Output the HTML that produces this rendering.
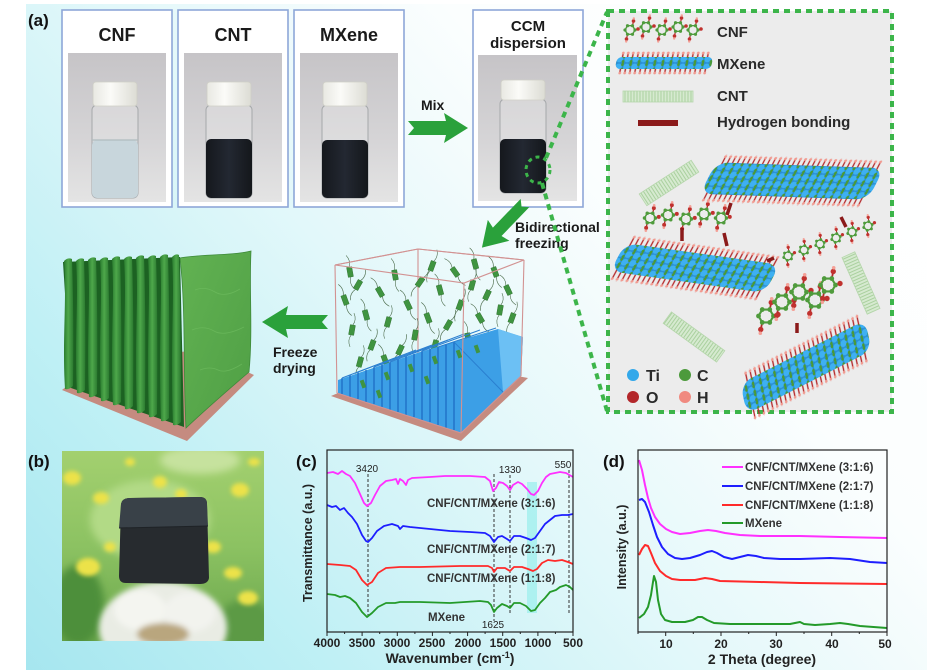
<!DOCTYPE html>
<html><head><meta charset="utf-8">
<style>
html,body{margin:0;padding:0;background:#fff;}
svg{display:block;}
text{font-family:"Liberation Sans",Arial,sans-serif;}
</style></head><body>
<svg width="927" height="670" viewBox="0 0 927 670" xmlns="http://www.w3.org/2000/svg">
<defs>
 <linearGradient id="bg" gradientUnits="userSpaceOnUse" x1="26" y1="670" x2="780" y2="0">
  <stop offset="0" stop-color="#a6e6ef"/>
  <stop offset="0.23" stop-color="#bff0f5"/>
  <stop offset="0.35" stop-color="#d0f3f7"/>
  <stop offset="0.5" stop-color="#e2f8fa"/>
  <stop offset="0.65" stop-color="#f2fbfc"/>
  <stop offset="0.75" stop-color="#fbfefe"/>
  <stop offset="1" stop-color="#ffffff"/>
 </linearGradient>
 <linearGradient id="photo" x1="0" y1="0" x2="0" y2="1">
  <stop offset="0" stop-color="#c6c4c7"/>
  <stop offset="0.6" stop-color="#d6d5d7"/>
  <stop offset="1" stop-color="#e4e4e4"/>
 </linearGradient>
 <linearGradient id="cap" x1="0" y1="0" x2="1" y2="0">
  <stop offset="0" stop-color="#e8e8e2"/>
  <stop offset="0.4" stop-color="#fbfbf8"/>
  <stop offset="1" stop-color="#dcdcd4"/>
 </linearGradient>
 <linearGradient id="dark" x1="0" y1="0" x2="1" y2="0">
  <stop offset="0" stop-color="#15181d"/>
  <stop offset="0.5" stop-color="#232832"/>
  <stop offset="1" stop-color="#14171b"/>
 </linearGradient>
 <linearGradient id="finG" x1="0" y1="0" x2="1" y2="0">
  <stop offset="0" stop-color="#2a7c2f"/>
  <stop offset="0.45" stop-color="#4ea84b"/>
  <stop offset="1" stop-color="#2b7a30"/>
 </linearGradient>
 <linearGradient id="faceG" x1="0" y1="0" x2="1" y2="1">
  <stop offset="0" stop-color="#62b252"/>
  <stop offset="1" stop-color="#4f9f45"/>
 </linearGradient>
 <linearGradient id="bphoto" x1="0" y1="0" x2="0" y2="1">
  <stop offset="0" stop-color="#a3d06f"/>
  <stop offset="0.5" stop-color="#8cc262"/>
  <stop offset="1" stop-color="#6aa64c"/>
 </linearGradient>
 <filter id="blur4" x="-50%" y="-50%" width="200%" height="200%"><feGaussianBlur stdDeviation="4"/></filter>
 <filter id="blur2" x="-50%" y="-50%" width="200%" height="200%"><feGaussianBlur stdDeviation="2"/></filter>
 <filter id="blur3" x="-50%" y="-50%" width="200%" height="200%"><feGaussianBlur stdDeviation="3"/></filter>
 <pattern id="tip" width="8" height="8" patternUnits="userSpaceOnUse">
  <rect width="8" height="8" fill="#2b8fd3"/>
  <circle cx="3" cy="4" r="3.4" fill="#3eb0f2"/>
  <circle cx="7" cy="1.5" r="1.6" fill="#4a9a36"/>
  <circle cx="7" cy="6.5" r="1.6" fill="#4a9a36"/>
 </pattern>
 <pattern id="hairT" width="5" height="12" patternUnits="userSpaceOnUse">
  <line x1="2.5" y1="2" x2="2.5" y2="12" stroke="#b3282a" stroke-width="1.4"/>
  <circle cx="2.5" cy="2" r="1.4" fill="#f19a90"/>
 </pattern>
 <pattern id="hairB" width="5" height="12" patternUnits="userSpaceOnUse">
  <line x1="2.5" y1="0" x2="2.5" y2="10" stroke="#b3282a" stroke-width="1.4"/>
  <circle cx="2.5" cy="10" r="1.4" fill="#f19a90"/>
 </pattern>
 <pattern id="cnt" width="3" height="10" patternUnits="userSpaceOnUse">
  <rect width="3" height="10" fill="#d6ead0"/>
  <line x1="1" y1="0" x2="1" y2="10" stroke="#9fca92" stroke-width="0.8"/>
 </pattern>
 <g id="cu">
  <polygon points="5,0 2.5,4.3 -2.5,4.3 -5,0 -2.5,-4.3 2.5,-4.3" fill="none" stroke="#4f9b3c" stroke-width="1.4"/>
  <line x1="2.5" y1="-4.3" x2="3.5" y2="-9" stroke="#b52a2a" stroke-width="1.2"/>
  <line x1="-2.5" y1="4.3" x2="-3.5" y2="9" stroke="#b52a2a" stroke-width="1.2"/>
  <circle cx="3.5" cy="-9" r="1.8" fill="#c0312e"/>
  <circle cx="3.8" cy="-11.5" r="1.2" fill="#f4a097"/>
  <circle cx="-3.5" cy="9" r="1.8" fill="#c0312e"/>
  <circle cx="-3.8" cy="11.5" r="1.2" fill="#f4a097"/>
  <circle cx="5" cy="0" r="1.6" fill="#4f9b3c"/>
  <circle cx="-5" cy="0" r="1.6" fill="#4f9b3c"/>
  <circle cx="2.5" cy="4.3" r="1.6" fill="#4f9b3c"/>
  <circle cx="-2.5" cy="-4.3" r="1.6" fill="#4f9b3c"/>
  <circle cx="-2.5" cy="4.3" r="1.6" fill="#4f9b3c"/>
  <circle cx="2.5" cy="-4.3" r="1.6" fill="#4f9b3c"/>
  <circle cx="8" cy="-1" r="1.8" fill="#c0312e"/>
 </g>
 <g id="plt">
  <path d="M0,-5 q3,-6 -1,-12 M0,5 q-3,6 1,12" fill="none" stroke="#4d6d4d" stroke-width="0.6"/>
  <rect x="-2.6" y="-5" width="5.2" height="10" fill="#3f9440" stroke="#2a6a2a" stroke-width="0.4"/>
 </g>
 <clipPath id="c1"><rect x="68" y="53" width="98" height="149"/></clipPath>
 <clipPath id="c2"><rect x="184" y="53" width="98" height="149"/></clipPath>
 <clipPath id="c3"><rect x="300" y="53" width="98" height="149"/></clipPath>
 <clipPath id="c4"><rect x="478" y="55" width="99" height="146"/></clipPath>
 <clipPath id="bclip"><rect x="62" y="451" width="202" height="190"/></clipPath>
</defs>

<!-- background -->
<rect x="26" y="4" width="901" height="666" fill="url(#bg)"/>

<!-- (a) label -->
<text x="28" y="26" font-size="17" font-weight="bold" fill="#111">(a)</text>

<!-- vial boxes -->
<g stroke="#8ea7d8" stroke-width="1.6" fill="#fff">
 <rect x="62" y="10" width="110" height="197"/>
 <rect x="178" y="10" width="110" height="197"/>
 <rect x="294" y="10" width="110" height="197"/>
 <rect x="473" y="10" width="110" height="197"/>
</g>
<g font-weight="bold" fill="#1a1a1a" text-anchor="middle">
 <text x="117" y="41" font-size="18">CNF</text>
 <text x="233" y="41" font-size="18">CNT</text>
 <text x="349" y="41" font-size="18">MXene</text>
 <text x="528" y="31" font-size="15">CCM</text>
 <text x="528" y="48" font-size="15">dispersion</text>
</g>

<!-- photo CNF -->
<g clip-path="url(#c1)">
 <rect x="68" y="53" width="98" height="149" fill="url(#photo)"/>
 <rect x="92" y="105" width="46" height="93" rx="5" fill="#eef0f0" fill-opacity="0.3" stroke="#a5a8aa" stroke-width="1"/>
 <rect x="92" y="140" width="46" height="58" rx="5" fill="#c8d6dc"/>
 <line x1="92" y1="140" x2="138" y2="140" stroke="#b0bcbf" stroke-width="1.2"/>
 <rect x="93" y="82" width="44" height="24" rx="3" fill="url(#cap)" stroke="#cfcfc6" stroke-width="0.8"/>
</g>
<!-- photo CNT -->
<g clip-path="url(#c2)">
 <rect x="184" y="53" width="98" height="149" fill="url(#photo)"/>
 <rect x="206" y="105" width="46" height="93" rx="5" fill="#eef0f0" fill-opacity="0.3" stroke="#a5a8aa" stroke-width="1"/>
 <rect x="206" y="139" width="46" height="59" rx="5" fill="url(#dark)"/>
 <rect x="207" y="82" width="44" height="24" rx="3" fill="url(#cap)" stroke="#cfcfc6" stroke-width="0.8"/>
</g>
<!-- photo MXene -->
<g clip-path="url(#c3)">
 <rect x="300" y="53" width="98" height="149" fill="url(#photo)"/>
 <rect x="322" y="105" width="46" height="93" rx="5" fill="#eef0f0" fill-opacity="0.3" stroke="#a5a8aa" stroke-width="1"/>
 <rect x="322" y="140" width="46" height="58" rx="5" fill="url(#dark)"/>
 <rect x="323" y="82" width="44" height="24" rx="3" fill="url(#cap)" stroke="#cfcfc6" stroke-width="0.8"/>
</g>
<!-- photo CCM -->
<g clip-path="url(#c4)">
 <rect x="478" y="55" width="99" height="146" fill="url(#photo)"/>
 <rect x="500" y="99" width="46" height="94" rx="5" fill="#eef0f0" fill-opacity="0.3" stroke="#a5a8aa" stroke-width="1"/>
 <rect x="500" y="139" width="46" height="54" rx="5" fill="url(#dark)"/>
 <rect x="501" y="80" width="44" height="20" rx="3" fill="url(#cap)" stroke="#cfcfc6" stroke-width="0.8"/>
</g>

<!-- arrows -->
<g fill="#2aa13b">
 <polygon transform="translate(408,128)" points="0,-7 38,-7 36,-15 60,0 36,15 38,7 0,7 6,0"/>
 <polygon transform="translate(525,203) rotate(134)" points="0,-6 40,-6 38,-15 62,0 38,15 40,6 0,6 5,0"/>
 <polygon transform="translate(328,322) rotate(180)" points="0,-7 42,-7 40,-16 66,0 40,16 42,7 0,7 6,0"/>
</g>
<g font-weight="bold" font-size="14" fill="#1a1a1a">
 <text x="421" y="110">Mix</text>
 <text x="515" y="232">Bidirectional</text>
 <text x="515" y="248">freezing</text>
 <text x="273" y="357">Freeze</text>
 <text x="273" y="373">drying</text>
</g>

<!-- dashed connection -->
<g fill="none" stroke="#3cb54a" stroke-width="4" stroke-dasharray="6 5">
 <rect x="608" y="11" width="284" height="401" fill="#ececec"/>
 <line x1="546" y1="158" x2="607" y2="12"/>
 <line x1="542" y1="183" x2="607" y2="411"/>
</g>
<ellipse cx="538" cy="170" rx="12" ry="13" fill="none" stroke="#3cb54a" stroke-width="3" stroke-dasharray="4 4"/>

<!-- right panel legend -->
<g>
 <use href="#cu" transform="translate(630,30)"/>
 <use href="#cu" transform="translate(646,27)"/>
 <use href="#cu" transform="translate(662,30)"/>
 <use href="#cu" transform="translate(678,27)"/>
 <use href="#cu" transform="translate(693,30)"/>
</g>
<g transform="translate(664,63) skewX(-10)">
 <rect x="-44" y="-12" width="88" height="12" fill="url(#hairT)"/>
 <rect x="-44" y="0" width="88" height="12" fill="url(#hairB)"/>
 <rect x="-48" y="-6" width="96" height="12" rx="5" fill="url(#tip)"/>
</g>
<rect x="623" y="91" width="70" height="11" fill="url(#cnt)" stroke="#b5d6ab" stroke-width="0.8"/>
<rect x="638" y="120" width="40" height="6" fill="#8b1a1a"/>
<g font-weight="bold" font-size="15" fill="#2a2a2a">
 <text x="717" y="37">CNF</text>
 <text x="717" y="69">MXene</text>
 <text x="717" y="101">CNT</text>
 <text x="717" y="127">Hydrogen bonding</text>
</g>

<!-- CNT tubes -->
<rect x="-31" y="-7" width="62" height="14" fill="url(#cnt)" stroke="#b5d6ab" stroke-width="0.8" transform="translate(669,183) rotate(-33)"/>
<rect x="-31" y="-7" width="62" height="14" fill="url(#cnt)" stroke="#b5d6ab" stroke-width="0.8" transform="translate(861,283) rotate(66)"/>
<rect x="-33" y="-7" width="66" height="14" fill="url(#cnt)" stroke="#b5d6ab" stroke-width="0.8" transform="translate(694,337) rotate(36)"/>

<!-- flakes -->
<g transform="translate(792,181) rotate(2) skewX(-25)">
 <rect x="-80" y="-24" width="160" height="12" fill="url(#hairT)"/>
 <rect x="-80" y="12" width="160" height="12" fill="url(#hairB)"/>
 <rect x="-84" y="-16" width="168" height="32" rx="12" fill="url(#tip)"/>
</g>
<g transform="translate(695,268) rotate(8) skewX(-20)">
 <rect x="-74" y="-24" width="148" height="12" fill="url(#hairT)"/>
 <rect x="-74" y="12" width="148" height="12" fill="url(#hairB)"/>
 <rect x="-78" y="-15" width="156" height="30" rx="12" fill="url(#tip)"/>
</g>
<g transform="translate(806,367) rotate(-27) skewX(-15)">
 <rect x="-66" y="-24" width="132" height="12" fill="url(#hairT)"/>
 <rect x="-66" y="12" width="132" height="12" fill="url(#hairB)"/>
 <rect x="-70" y="-15" width="140" height="30" rx="12" fill="url(#tip)"/>
</g>

<!-- CNF chains -->
<g>
 <use href="#cu" transform="translate(650,218) scale(1.1)"/>
 <use href="#cu" transform="translate(668,215) scale(1.1)"/>
 <use href="#cu" transform="translate(686,219) scale(1.1)"/>
 <use href="#cu" transform="translate(704,214) scale(1.1)"/>
 <use href="#cu" transform="translate(721,218) scale(1.1)"/>
 <use href="#cu" transform="translate(788,256) scale(0.9) rotate(-20)"/>
 <use href="#cu" transform="translate(804,250) scale(0.9) rotate(-20)"/>
 <use href="#cu" transform="translate(820,244) scale(0.9) rotate(-20)"/>
 <use href="#cu" transform="translate(836,238) scale(0.9) rotate(-20)"/>
 <use href="#cu" transform="translate(852,232) scale(0.9) rotate(-20)"/>
 <use href="#cu" transform="translate(868,226) scale(0.9) rotate(-20)"/>
 <use href="#cu" transform="translate(766,316) scale(1.5)"/>
 <use href="#cu" transform="translate(782,302) scale(1.5)"/>
 <use href="#cu" transform="translate(799,292) scale(1.5)"/>
 <use href="#cu" transform="translate(815,300) scale(1.5)"/>
 <use href="#cu" transform="translate(828,285) scale(1.5)"/>
</g>
<!-- H bonds -->
<g stroke="#8b1a1a" stroke-width="3.5">
 <line x1="731" y1="203" x2="727" y2="215"/>
 <line x1="682" y1="228" x2="682" y2="241"/>
 <line x1="724" y1="233" x2="727" y2="246"/>
 <line x1="841" y1="217" x2="846" y2="227"/>
 <line x1="767" y1="261" x2="774" y2="258"/>
 <line x1="797" y1="323" x2="797" y2="333"/>
</g>
<!-- atom legend -->
<circle cx="633" cy="375" r="6" fill="#33a8ea"/>
<circle cx="685" cy="375" r="6" fill="#4c9a3c"/>
<circle cx="633" cy="397" r="6" fill="#b3262a"/>
<circle cx="685" cy="397" r="6" fill="#f08a80"/>
<g font-weight="bold" font-size="16" fill="#2a2a2a">
 <text x="646" y="381">Ti</text>
 <text x="697" y="381">C</text>
 <text x="646" y="403">O</text>
 <text x="697" y="403">H</text>
</g>

<!-- left aerogel structure -->
<polygon points="62,390 187,441 254,375 200,350 100,360" fill="#c58b80"/>
<polygon points="63,262 180,257 184,427 71,388" fill="#1c6222"/>
<g fill="url(#finG)">
 <path d="M64,261 Q68,257 72,259 Q74,320 73,386 Q69,390 65,389 C62,340 67,300 64,261Z"/>
 <path d="M76,261 Q80,257 84,259 Q86,320 85,390 Q81,394 77,393 C74,340 79,300 76,261Z"/>
 <path d="M88,260 Q92,256 96,258 Q98,320 97,394 Q93,398 89,397 C86,340 91,300 88,260Z"/>
 <path d="M100,260 Q104,256 108,258 Q110,320 109,398 Q105,402 101,401 C98,340 103,300 100,260Z"/>
 <path d="M112,259 Q116,255 120,257 Q122,320 121,402 Q117,406 113,405 C110,340 115,300 112,259Z"/>
 <path d="M124,259 Q128,255 132,257 Q134,320 133,406 Q129,410 125,409 C122,340 127,300 124,259Z"/>
 <path d="M136,258 Q140,254 144,256 Q146,320 145,410 Q141,414 137,413 C134,340 139,300 136,258Z"/>
 <path d="M148,258 Q152,254 156,256 Q158,320 157,414 Q153,418 149,417 C146,340 151,300 148,258Z"/>
 <path d="M160,257 Q164,253 168,255 Q170,320 169,418 Q165,422 161,421 C158,340 163,300 160,257Z"/>
 <path d="M172,257 Q176,253 179,255 Q181,320 181,422 Q177,426 173,425 C170,340 175,300 172,257Z"/>
</g>
<path d="M180,258 C200,254 230,256 251,251 C249,290 253,330 249,372 C228,390 205,410 186,428 C183,370 186,310 180,258Z" fill="url(#faceG)" stroke="#3e8a3a" stroke-width="0.8"/>
<g fill="none" stroke="#73c063" stroke-width="0.8" opacity="0.6">
 <path d="M195,290 q10,-4 20,2 t25,-3"/>
 <path d="M192,330 q12,-5 22,1 t30,-4"/>
 <path d="M200,370 q10,-4 18,0 t24,-6"/>
</g>

<!-- freezing cube -->
<polygon points="331,396 461,441 528,378 420,358" fill="#c58b80"/>
<g stroke="#d29292" stroke-width="1.1" fill="none">
 <polyline points="335,265 418,249 524,260"/>
 <line x1="418" y1="249" x2="418" y2="370"/>
</g>
<g>
 <use href="#plt" transform="translate(345,300) rotate(-20)"/>
 <use href="#plt" transform="translate(352,330) rotate(10)"/>
 <use href="#plt" transform="translate(358,285) rotate(30)"/>
 <use href="#plt" transform="translate(366,315) rotate(-15)"/>
 <use href="#plt" transform="translate(372,345) rotate(20)"/>
 <use href="#plt" transform="translate(380,292) rotate(-30)"/>
 <use href="#plt" transform="translate(388,322) rotate(15)"/>
 <use href="#plt" transform="translate(395,275) rotate(-10)"/>
 <use href="#plt" transform="translate(400,350) rotate(25)"/>
 <use href="#plt" transform="translate(408,305) rotate(-25)"/>
 <use href="#plt" transform="translate(415,335) rotate(10)"/>
 <use href="#plt" transform="translate(420,282) rotate(35)"/>
 <use href="#plt" transform="translate(428,318) rotate(-20)"/>
 <use href="#plt" transform="translate(435,345) rotate(15)"/>
 <use href="#plt" transform="translate(440,290) rotate(-15)"/>
 <use href="#plt" transform="translate(448,325) rotate(30)"/>
 <use href="#plt" transform="translate(455,272) rotate(-35)"/>
 <use href="#plt" transform="translate(460,305) rotate(20)"/>
 <use href="#plt" transform="translate(468,338) rotate(-10)"/>
 <use href="#plt" transform="translate(472,285) rotate(15)"/>
 <use href="#plt" transform="translate(480,318) rotate(-30)"/>
 <use href="#plt" transform="translate(487,295) rotate(25)"/>
 <use href="#plt" transform="translate(495,272) rotate(-20)"/>
 <use href="#plt" transform="translate(500,310) rotate(10)"/>
 <use href="#plt" transform="translate(508,290) rotate(-25)"/>
 <use href="#plt" transform="translate(512,318) rotate(20)"/>
 <use href="#plt" transform="translate(360,362) rotate(15)"/>
 <use href="#plt" transform="translate(385,360) rotate(-20)"/>
 <use href="#plt" transform="translate(350,272) rotate(-10)"/>
 <use href="#plt" transform="translate(432,266) rotate(20)"/>
 <use href="#plt" transform="translate(475,264) rotate(-15)"/>
</g>
<!-- ice -->
<polygon points="338,380 420,352 498,329 523,337 521,376 461,433 338,393" fill="#3c9fe6"/>
<polygon points="498,329 523,337 521,376 503,392" fill="#6cc0f4"/>
<g stroke="#1d6cc4" stroke-width="1.3">
 <line x1="342" y1="394" x2="342" y2="378"/>
 <line x1="350" y1="397" x2="350" y2="375"/>
 <line x1="358" y1="399" x2="358" y2="372"/>
 <line x1="366" y1="402" x2="366" y2="370"/>
 <line x1="374" y1="404" x2="374" y2="367"/>
 <line x1="382" y1="407" x2="382" y2="364"/>
 <line x1="390" y1="410" x2="390" y2="362"/>
 <line x1="398" y1="412" x2="398" y2="359"/>
 <line x1="406" y1="415" x2="406" y2="356"/>
 <line x1="414" y1="417" x2="414" y2="354"/>
 <line x1="422" y1="420" x2="422" y2="351"/>
 <line x1="430" y1="422" x2="430" y2="349"/>
 <line x1="438" y1="425" x2="438" y2="347"/>
 <line x1="446" y1="428" x2="446" y2="344"/>
 <line x1="454" y1="430" x2="454" y2="342"/>
</g>
<g stroke="#2a7fd0" stroke-width="1">
 <line x1="342" y1="378" x2="400" y2="356"/>
 <line x1="358" y1="372" x2="416" y2="350"/>
 <line x1="374" y1="367" x2="432" y2="345"/>
 <line x1="390" y1="362" x2="448" y2="340"/>
 <line x1="406" y1="356" x2="464" y2="334"/>
 <line x1="422" y1="351" x2="480" y2="330"/>
 <line x1="438" y1="347" x2="496" y2="328"/>
 <line x1="454" y1="342" x2="503" y2="392"/>
</g>
<g fill="#3f9440">
 <rect x="361" y="380" width="4" height="8" transform="rotate(-20 363 384)"/>
 <rect x="385" y="372" width="4" height="8" transform="rotate(-20 387 376)"/>
 <rect x="409" y="364" width="4" height="8" transform="rotate(-20 411 368)"/>
 <rect x="433" y="356" width="4" height="8" transform="rotate(-20 435 360)"/>
 <rect x="457" y="350" width="4" height="8" transform="rotate(-20 459 354)"/>
 <rect x="377" y="390" width="4" height="8" transform="rotate(-20 379 394)"/>
 <rect x="425" y="376" width="4" height="8" transform="rotate(-20 427 380)"/>
 <rect x="475" y="345" width="4" height="8" transform="rotate(-20 477 349)"/>
</g>
<g stroke="#d29292" stroke-width="1.1" fill="none">
 <polygon points="335,265 464,283 524,260 418,249" fill="none"/>
 <line x1="335" y1="265" x2="337" y2="393"/>
 <line x1="464" y1="283" x2="461" y2="433"/>
 <line x1="524" y1="260" x2="521" y2="376"/>
 <polyline points="337,393 461,433 521,376"/>
</g>

<!-- (b) -->
<text x="28" y="467" font-size="17" font-weight="bold" fill="#111">(b)</text>
<g clip-path="url(#bclip)">
 <rect x="62" y="451" width="202" height="190" fill="url(#bphoto)"/>
 <g filter="url(#blur4)">
  <ellipse cx="150" cy="520" rx="60" ry="40" fill="#b2da86"/>
  <ellipse cx="78" cy="605" rx="26" ry="40" fill="#4e8f3a"/>
  <ellipse cx="245" cy="625" rx="28" ry="25" fill="#5c9a44"/>
  <ellipse cx="200" cy="460" rx="40" ry="14" fill="#c6e29e"/>
 </g>
 <g fill="#ece24a" filter="url(#blur2)">
  <ellipse cx="72" cy="478" rx="9" ry="7"/>
  <ellipse cx="101" cy="498" rx="8" ry="6"/>
  <ellipse cx="160" cy="482" rx="7" ry="6"/>
  <ellipse cx="181" cy="494" rx="6" ry="5"/>
  <ellipse cx="240" cy="490" rx="9" ry="7"/>
  <ellipse cx="254" cy="462" rx="6" ry="4"/>
  <ellipse cx="88" cy="567" rx="12" ry="9"/>
  <ellipse cx="110" cy="547" rx="6" ry="5"/>
  <ellipse cx="213" cy="547" rx="8" ry="6"/>
  <ellipse cx="233" cy="573" rx="9" ry="6"/>
  <ellipse cx="248" cy="598" rx="10" ry="7"/>
  <ellipse cx="130" cy="462" rx="5" ry="4"/>
 </g>
 <g filter="url(#blur3)">
  <ellipse cx="163" cy="628" rx="64" ry="46" fill="#e9ece4"/>
  <ellipse cx="140" cy="610" rx="26" ry="20" fill="#f4f5f0"/>
  <ellipse cx="190" cy="612" rx="26" ry="20" fill="#f2f3ee"/>
  <ellipse cx="163" cy="634" rx="26" ry="11" fill="#b9a67e"/>
 </g>
 <path d="M121,504 Q122,498 130,498 L200,497 Q207,497 207,504 L209,578 Q208,584 200,584 L126,583 Q119,583 119,576 Z" fill="#272b2f"/>
 <path d="M121,504 Q122,498 130,498 L200,497 Q207,497 207,504 L208,526 L119,528 Z" fill="#394148"/>
 <line x1="119" y1="528" x2="208" y2="526" stroke="#1e2226" stroke-width="1"/>
</g>

<!-- (c) FTIR -->
<text x="296" y="467" font-size="17" font-weight="bold" fill="#111">(c)</text>
<rect x="527" y="482" width="10" height="131" fill="#a4f0ee" opacity="0.85"/>
<g stroke="#333" stroke-width="1" stroke-dasharray="3 2">
 <line x1="368" y1="474" x2="368" y2="617"/>
 <line x1="494" y1="474" x2="494" y2="621"/>
 <line x1="510" y1="475" x2="510" y2="613"/>
 <line x1="569" y1="470" x2="569" y2="614"/>
</g>
<g fill="none" stroke-width="1.8" stroke-linejoin="round">
 <polyline stroke="#ff30ff" points="327,473 333,472 338,474 342,471 346,474 350,476 355,483 360,494 364,503 367,506 371,503 375,495 380,486 386,481 392,480 396,479 398,484 400,479 403,481 406,485 408,480 412,478 430,477 445,476 470,476 485,477 490,481 493,491 496,488 499,482 503,483 507,486 510,490 513,485 518,482 522,484 527,489 531,494 534,495 538,491 542,483 546,477 550,474 555,473 560,472 566,473 573,477"/>
 <polyline stroke="#1e1eff" points="327,505 332,507 336,506 340,510 344,508 348,513 352,517 357,524 362,535 366,541 368,542 372,538 377,531 384,526 392,524 398,526 400,529 403,526 410,527 430,529 450,531 470,532 485,533 490,536 494,542 498,537 502,536 507,539 510,541 514,536 520,536 526,538 531,540 535,538 540,531 545,524 550,520 555,516 562,515 568,515 573,514"/>
 <polyline stroke="#ff2a2a" points="327,564 340,565 350,566 356,570 362,580 367,585 372,582 378,573 386,568 400,567 420,567 460,566 488,566 492,568 494,572 497,568 505,568 510,571 514,567 522,567 528,569 533,571 537,569 542,563 548,560 555,561 562,560 568,562 573,564"/>
 <polyline stroke="#249a2a" points="327,594 335,595 340,597 345,596 350,598 356,603 362,612 367,617 372,613 378,607 386,603 395,603 400,602 420,602 450,603 480,601 488,602 491,605 494,612 497,608 502,604 507,606 510,608 514,603 520,603 526,606 531,611 535,610 540,603 545,598 550,592 556,590 560,587 566,585 570,587 573,590"/>
</g>
<rect x="327" y="450" width="246" height="182" fill="none" stroke="#222" stroke-width="1.2"/>
<path d="M327,632v4M344.6,632v2M362.1,632v4M379.7,632v2M397.3,632v4M414.9,632v2M432.4,632v4M450,632v2M467.6,632v4M485.1,632v2M502.7,632v4M520.3,632v2M537.9,632v4M555.4,632v2M573,632v4" stroke="#222" stroke-width="1"/>
<g font-size="10" fill="#222" text-anchor="middle">
 <text x="367" y="472">3420</text>
 <text x="510" y="473">1330</text>
 <text x="563" y="468">550</text>
 <text x="493" y="628">1625</text>
</g>
<g font-size="11.5" font-weight="bold" fill="#333">
 <text x="427" y="507">CNF/CNT/MXene (3:1:6)</text>
 <text x="427" y="553">CNF/CNT/MXene (2:1:7)</text>
 <text x="427" y="582">CNF/CNT/MXene (1:1:8)</text>
 <text x="428" y="621">MXene</text>
</g>
<g font-size="12" font-weight="bold" fill="#222" text-anchor="middle">
 <text x="327" y="647">4000</text>
 <text x="362" y="647">3500</text>
 <text x="397" y="647">3000</text>
 <text x="432" y="647">2500</text>
 <text x="468" y="647">2000</text>
 <text x="503" y="647">1500</text>
 <text x="538" y="647">1000</text>
 <text x="573" y="647">500</text>
</g>
<text x="450" y="663" font-size="14" font-weight="bold" fill="#222" text-anchor="middle">Wavenumber (cm<tspan font-size="9" dy="-5">-1</tspan><tspan dy="5">)</tspan></text>
<text transform="translate(312,543) rotate(-90)" font-size="12.5" font-weight="bold" fill="#222" text-anchor="middle">Transmittance (a.u.)</text>

<!-- (d) XRD -->
<text x="603" y="467" font-size="17" font-weight="bold" fill="#111">(d)</text>
<g fill="none" stroke-width="2" stroke-linejoin="round">
 <polyline stroke="#ff30ff" points="639,460 642,470 645,485 648,498 651,508 655,517 660,524 666,529 672,532 680,534 690,533 700,531 708,530 716,531 725,533 740,535 760,536 800,536 840,537 887,538"/>
 <polyline stroke="#1e1eff" points="639,500 642,499 645,502 649,512 653,525 657,537 662,547 668,554 675,558 682,559 690,558 700,555 707,552 712,551 717,553 724,557 732,559 740,557 748,555 756,556 764,558 780,559 800,559 830,558 850,559 870,562 887,563"/>
 <polyline stroke="#ff2a2a" points="639,555 642,549 645,545 648,546 651,553 655,563 660,571 666,576 672,579 680,580 695,580 705,578 712,579 720,581 760,582 800,583 887,584"/>
 <polyline stroke="#249a2a" points="639,618 644,614 648,607 651,595 653,582 654,576 656,582 658,600 661,614 665,620 672,622 685,622 693,620 698,617 702,617 707,620 714,623 730,624 760,624 790,624 800,622 804,624 815,625 830,624 840,623 848,624 860,626 887,628"/>
</g>
<rect x="638" y="450" width="249" height="182" fill="none" stroke="#222" stroke-width="1.2"/>
<path d="M638,632v2M665.7,632v4M693.3,632v2M721,632v4M748.7,632v2M776.3,632v4M804,632v2M831.7,632v4M859.3,632v2M887,632v4" stroke="#222" stroke-width="1"/>
<g stroke-width="2">
 <line x1="722" y1="467" x2="743" y2="467" stroke="#ff30ff"/>
 <line x1="722" y1="486" x2="743" y2="486" stroke="#1e1eff"/>
 <line x1="722" y1="505" x2="743" y2="505" stroke="#ff2a2a"/>
 <line x1="722" y1="523" x2="743" y2="523" stroke="#249a2a"/>
</g>
<g font-size="11.5" font-weight="bold" fill="#333">
 <text x="745" y="471">CNF/CNT/MXene (3:1:6)</text>
 <text x="745" y="490">CNF/CNT/MXene (2:1:7)</text>
 <text x="745" y="509">CNF/CNT/MXene (1:1:8)</text>
 <text x="745" y="527">MXene</text>
</g>
<g font-size="12" font-weight="bold" fill="#222" text-anchor="middle">
 <text x="666" y="648">10</text>
 <text x="721" y="648">20</text>
 <text x="776" y="648">30</text>
 <text x="832" y="648">40</text>
 <text x="885" y="648">50</text>
</g>
<text x="762" y="664" font-size="14" font-weight="bold" fill="#222" text-anchor="middle">2 Theta (degree)</text>
<text transform="translate(626,547) rotate(-90)" font-size="12.5" font-weight="bold" fill="#222" text-anchor="middle">Intensity (a.u.)</text>
</svg>
</body></html>
